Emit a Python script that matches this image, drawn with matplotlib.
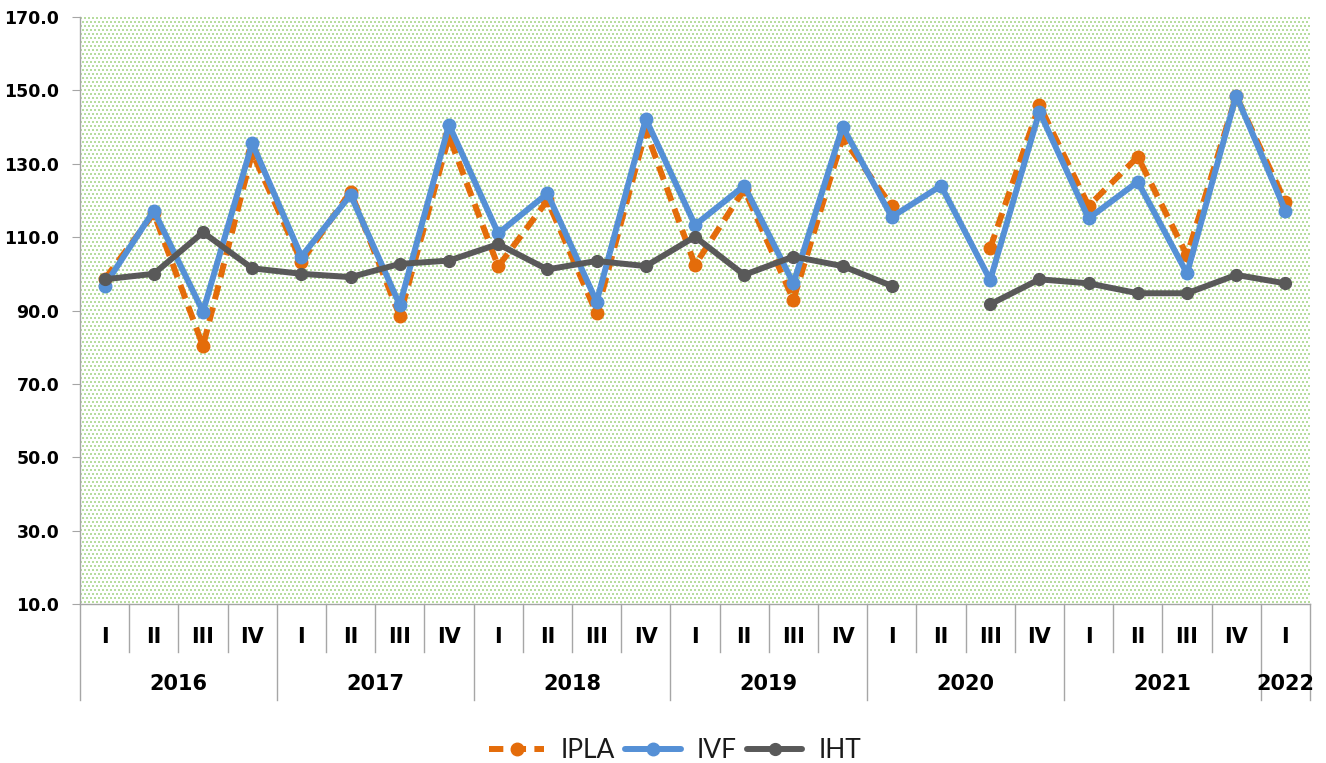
import matplotlib
matplotlib.use('Agg')
import matplotlib.pyplot as plt
import numpy as np

nan = np.nan

# categorias (trimestres por ano)
years = ['2016', '2017', '2018', '2019', '2020', '2021', '2022']
quarters_per_year = [4, 4, 4, 4, 4, 4, 1]
quarter_names = ['I', 'II', 'III', 'IV']

# series
ipla = [98.5, 116.5, 80.3, 133.0, 103.3, 122.4, 88.5, 137.5, 102.0, 120.0, 89.2, 139.0,
        102.4, 123.0, 92.9, 137.0, 118.5, nan, 107.0, 146.0, 118.5, 131.9, 105.0, 148.5, 119.5]
ivf = [96.8, 117.2, 89.7, 135.6, 104.7, 121.5, 91.5, 140.6, 111.0, 121.9, 92.4, 142.2,
       113.3, 124.0, 97.4, 140.1, 115.5, 124.0, 98.3, 144.2, 115.1, 125.1, 100.1, 148.6, 117.2]
iht = [98.5, 100.0, 111.3, 101.5, 100.0, 99.1, 102.7, 103.6, 108.1, 101.2, 103.5, 102.1,
       110.1, 99.7, 104.7, 102.1, 96.7, nan, 91.7, 98.5, 97.4, 94.7, 94.7, 99.7, 97.4]

quarter_labels = []
for n in quarters_per_year:
    quarter_labels += quarter_names[:n]
x = np.arange(len(quarter_labels))

W, H = 1326, 763
fig = plt.figure(figsize=(W / 100, H / 100), dpi=100)
ax_left, ax_right, ax_top, ax_bottom = 80, 1310, 17, 604
ax_w = ax_right - ax_left
ax_h = ax_bottom - ax_top
ax = fig.add_axes([ax_left / W, 1 - ax_bottom / H, ax_w / W, ax_h / H])

xmin, xmax, ymin, ymax = -0.5, len(x) - 0.5, 10, 170

# fundo pontilhado verde (padrao tipo Excel, pontos 2x2 a cada 4 px, linhas alternadas)
tex = np.ones((ax_h, ax_w, 3))
rr, cc = np.mgrid[0:ax_h, 0:ax_w]
dots = (rr % 4 < 2) & ((cc + 2 * ((rr // 4) % 2)) % 4 < 2)
tex[dots] = [0.72, 0.87, 0.62]
ax.imshow(tex, extent=(xmin, xmax, ymin, ymax), aspect='auto',
          interpolation='nearest', zorder=0)

ax.plot(x, ipla, color='#e46c0a', lw=4.3, ls=(0, (2.4, 1.4)), marker='o', ms=9,
        label='IPLA', zorder=3)
ax.plot(x, ivf, color='#5590d6', lw=4.3, marker='o', ms=9, label='IVF', zorder=4,
        solid_capstyle='round')
ax.plot(x, iht, color='#595959', lw=4.3, marker='o', ms=8.5, label='IHT', zorder=5,
        solid_capstyle='round')

ax.set_xlim(xmin, xmax)
ax.set_ylim(ymin, ymax)
ax.set_yticks(np.arange(10, 171, 20))
ax.set_yticklabels(['%.1f' % v for v in np.arange(10, 171, 20)],
                   fontsize=12.5, fontweight='bold')
ax.tick_params(axis='y', length=6, color='#a6a6a6', pad=9)
ax.set_xticks([])
for s in ['top', 'right']:
    ax.spines[s].set_visible(False)
for s in ['left', 'bottom']:
    ax.spines[s].set_color('#a6a6a6')
    ax.spines[s].set_linewidth(1)

# eixo x em dois niveis
tr = ax.get_xaxis_transform()
short_y = -48 / ax_h
long_y = -96 / ax_h
q_text_y = -33 / ax_h
y_text_y = -80 / ax_h
line_kw = dict(color='#a6a6a6', lw=1, transform=tr, clip_on=False)

for i, q in enumerate(quarter_labels):
    ax.text(i, q_text_y, q, transform=tr, ha='center', va='center',
            fontsize=15, fontweight='bold')

start = 0
for yr, n in zip(years, quarters_per_year):
    ax.plot([start - 0.5, start - 0.5], [0, long_y], **line_kw)
    for k in range(1, n):
        ax.plot([start + k - 0.5, start + k - 0.5], [0, short_y], **line_kw)
    ax.text(start + (n - 1) / 2, y_text_y, yr, transform=tr, ha='center', va='center',
            fontsize=15, fontweight='bold')
    start += n
ax.plot([start - 0.5, start - 0.5], [0, long_y], **line_kw)

leg = fig.legend(loc='center', bbox_to_anchor=(675 / W, 1 - 751 / H), ncol=3, frameon=False,
                 prop={'family': 'Lato', 'weight': 'normal', 'size': 19},
                 handlelength=2.1, handletextpad=0.6, columnspacing=0.4)
for t in leg.get_texts():
    t.set_color('#1a1a1a')

fig.savefig('out.png', dpi=100)
